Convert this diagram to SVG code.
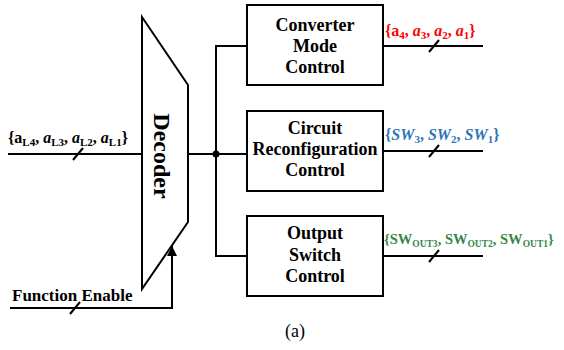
<svg xmlns="http://www.w3.org/2000/svg" width="564" height="350" viewBox="0 0 564 350">
<style>
.ln{fill:none;stroke:#000;stroke-width:2}
.box{fill:#fff;stroke:#000;stroke-width:2}
.f{font-family:"Liberation Serif","Times New Roman",Times,"DejaVu Serif",serif}
.t{font-weight:bold;font-size:18px;fill:#000;text-anchor:middle}
.m{font-weight:bold;font-size:16px}
.i{font-style:italic}
.s{font-size:11px}
.s2{font-size:9.5px}
</style>
<defs>
<marker id="ah" viewBox="0 0 10 10" refX="10" refY="5" markerWidth="10" markerHeight="10" markerUnits="userSpaceOnUse" orient="auto">
<path d="M0,0 L10,5 L0,10 Z" fill="#000"/>
</marker>
</defs>
<g id="connectors">
<path class="ln" d="M8,154 H142"/>
<path class="ln" d="M73,160 L83,148"/>
<path class="ln" d="M10,308 H172 V246" marker-end="url(#ah)"/>
<path class="ln" d="M70,314 L80,302"/>
<path class="ln" d="M188,154 H247"/>
<path class="ln" d="M247,46 H216 V256 H247"/>
<circle cx="216" cy="154" r="3.5" fill="#000"/>
<path class="ln" d="M383,46 H483"/>
<path class="ln" d="M429,52 L439,40"/>
<path class="ln" d="M383,151 H483"/>
<path class="ln" d="M429,157 L439,145"/>
<path class="ln" d="M383,256 H483"/>
<path class="ln" d="M429,262 L439,250"/>
</g>
<g id="decoder">
<path class="box" d="M142,17 L188,85 V222 L142,289 Z"/>
<text class="f t" transform="translate(154,156) rotate(90)" style="font-size:24px">Decoder</text>
</g>
<g id="converter">
<rect class="box" x="247" y="5" width="136" height="80"/>
<text class="f t" x="315" y="31">Converter</text>
<text class="f t" x="315" y="52">Mode</text>
<text class="f t" x="315" y="73">Control</text>
</g>
<g id="circuit">
<rect class="box" x="247" y="111" width="136" height="80"/>
<text class="f t" x="315" y="134">Circuit</text>
<text class="f t" x="315" y="155">Reconfiguration</text>
<text class="f t" x="315" y="176">Control</text>
</g>
<g id="output">
<rect class="box" x="247" y="216" width="136" height="80"/>
<text class="f t" x="315" y="239">Output</text>
<text class="f t" x="315" y="261">Switch</text>
<text class="f t" x="315" y="282">Control</text>
</g>
<g id="labels">
<text class="f m" x="8" y="143">{a<tspan class="s" dy="3">L4</tspan><tspan dy="-3">, </tspan><tspan class="i">a</tspan><tspan class="s" dy="3">L3</tspan><tspan dy="-3">, </tspan><tspan class="i">a</tspan><tspan class="s" dy="3">L2</tspan><tspan dy="-3">, </tspan><tspan class="i">a</tspan><tspan class="s" dy="3">L1</tspan><tspan dy="-3">}</tspan></text>
<text class="f m" x="385" y="36" fill="#ff0000">{a<tspan class="s" dy="3">4</tspan><tspan dy="-3">, </tspan><tspan class="i">a</tspan><tspan class="s" dy="3">3</tspan><tspan dy="-3">, </tspan><tspan class="i">a</tspan><tspan class="s" dy="3">2</tspan><tspan dy="-3">, </tspan><tspan class="i">a</tspan><tspan class="s" dy="3">1</tspan><tspan dy="-3">}</tspan></text>
<text class="f m" x="385" y="140" fill="#2e75b6">{<tspan class="i">SW</tspan><tspan class="s" dy="3">3</tspan><tspan dy="-3">, </tspan><tspan class="i">SW</tspan><tspan class="s" dy="3">2</tspan><tspan dy="-3">, </tspan><tspan class="i">SW</tspan><tspan class="s" dy="3">1</tspan><tspan dy="-3">}</tspan></text>
<text class="f m" x="384" y="244" fill="#38874a" style="font-size:14.5px">{SW<tspan class="s2" dy="3">OUT3</tspan><tspan dy="-3">, SW</tspan><tspan class="s2" dy="3">OUT2</tspan><tspan dy="-3">, SW</tspan><tspan class="s2" dy="3">OUT1</tspan><tspan dy="-3">}</tspan></text>
<text class="f" x="12" y="301" style="font-weight:bold;font-size:17px">Function Enable</text>
<text class="f" x="295" y="337" style="font-size:18px;text-anchor:middle">(a)</text>
</g>
</svg>
